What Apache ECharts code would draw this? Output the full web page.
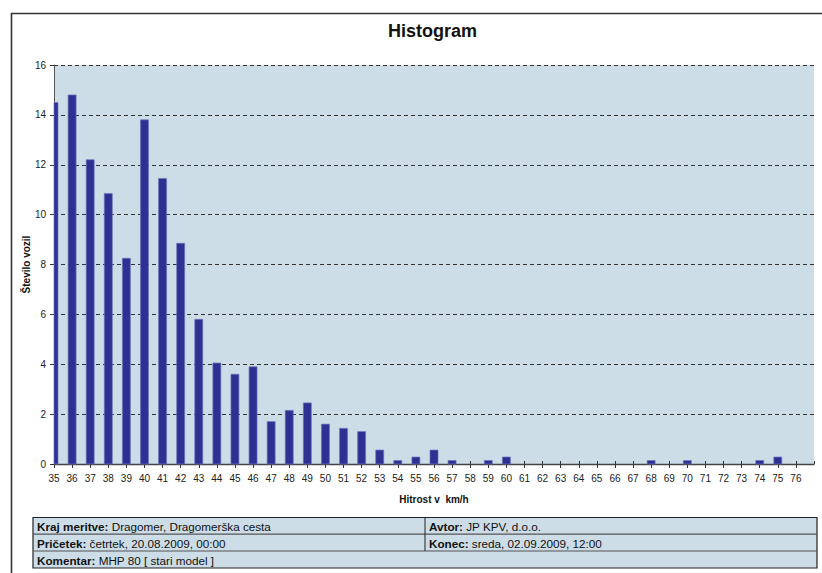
<!DOCTYPE html>
<html>
<head>
<meta charset="utf-8">
<script src="https://cdn.jsdelivr.net/npm/echarts@6/dist/echarts.min.js"></script>
<style>
html,body{margin:0;padding:0;background:#fff;}
#c{width:822px;height:573px;}
</style>
</head>
<body>
<div id="c"></div>
<script>
// ---- data ----
const titleText = 'Histogram';
const xName = 'Hitrost v  km/h';
const yName = 'Število vozil';
const categories = [35,36,37,38,39,40,41,42,43,44,45,46,47,48,49,50,51,52,53,54,55,56,57,58,59,60,61,62,63,64,65,66,67,68,69,70,71,72,73,74,75,76];
const values = [14.5,14.8,12.2,10.85,8.25,13.8,11.45,8.85,5.8,4.05,3.6,3.9,1.7,2.15,2.45,1.6,1.43,1.3,0.56,0.14,0.28,0.56,0.14,0,0.14,0.28,0,0,0,0,0,0,0,0.14,0,0.14,0,0,0,0.14,0.28,0];
const yTicks = [0,2,4,6,8,10,12,14,16];
const tableRows = [
  [['Kraj meritve:', 'Dragomer, Dragomerška cesta'], ['Avtor:', 'JP KPV, d.o.o.']],
  [['Pričetek:', 'četrtek, 20.08.2009, 00:00'], ['Konec:', 'sreda, 02.09.2009, 12:00']],
  [['Komentar:', 'MHP 80 [ stari model ]']]
];

const chart = echarts.init(document.getElementById('c'), null, {renderer:'svg'});
const font = 'Liberation Sans, Arial, sans-serif';
const barData = categories.map((c,i)=>[c, values[i]]);
const xMin = categories[0];
const xMax = categories[categories.length-1] + 1;
const BAR_W = 8;

// table graphics
const tL = 33, tR = 817, tMid = 425, rowTops = [517.5, 534.2, 551, 568];
const tfs = 11.7;
const graphics = [
  {type:'line', shape:{x1:11, y1:13.5, x2:822, y2:13.5}, style:{stroke:'#333', lineWidth:1.6}},
  {type:'line', shape:{x1:11.5, y1:13, x2:11.5, y2:573}, style:{stroke:'#333', lineWidth:1.6}},
  {type:'rect', shape:{x:tL, y:rowTops[0], width:tR-tL, height:rowTops[3]-rowTops[0]}, style:{fill:'#CDDDE7', stroke:'#222', lineWidth:1.2}}
];
for (let r=1;r<3;r++){
  graphics.push({type:'line', shape:{x1:tL, y1:rowTops[r], x2:tR, y2:rowTops[r]}, style:{stroke:'#555', lineWidth:1.2}});
}
graphics.push({type:'line', shape:{x1:tMid, y1:rowTops[0], x2:tMid, y2:rowTops[2]}, style:{stroke:'#222', lineWidth:1}});
tableRows.forEach((row, r)=>{
  row.forEach((cell, ci)=>{
    const x = (ci===0 ? tL : tMid) + 4;
    const y = (rowTops[r]+rowTops[r+1])/2 + 0.5;
    graphics.push({type:'text', x:x, y:y, style:{
      text:'{b|'+cell[0]+'} {n|'+cell[1]+'}',
      verticalAlign:'middle', fontFamily:font, fontSize:tfs, fill:'#111',
      rich:{ b:{fontWeight:'bold', fontSize:tfs, fontFamily:font, fill:'#111'}, n:{fontSize:tfs, fontFamily:font, fill:'#111'} }
    }});
  });
});

const xAxisBase = {
  type:'value', min:xMin, max:xMax, interval:1, gridIndex:0
};

chart.setOption({
  animation:false,
  backgroundColor:'#fff',
  title:{text:titleText, left:383, top:17, textStyle:{fontFamily:font, fontSize:18, fontWeight:'bold', color:'#111'}},
  grid:{left:54, right:8, top:65, bottom:109, show:true, backgroundColor:'#CDDDE7', borderWidth:0},
  xAxis:[
    Object.assign({}, xAxisBase, {
      name:xName, nameLocation:'middle', nameGap:30, nameMoveOverlap:false,
      nameTextStyle:{fontFamily:font, fontSize:10, fontWeight:'bold', color:'#111'},
      axisLine:{show:true, lineStyle:{color:'#444', width:1.3}},
      axisTick:{show:true, length:4, lineStyle:{color:'#333'}},
      axisLabel:{fontFamily:font, fontSize:10, color:'#222', margin:9, showMaxLabel:false,
        formatter:(v)=> v===xMax ? '' : String(v)},
      splitLine:{show:false}
    }),
    Object.assign({}, xAxisBase, {
      position:'bottom',
      axisLine:{show:false},
      axisTick:{show:true, inside:true, length:3, lineStyle:{color:'#333'}},
      axisLabel:{show:false},
      splitLine:{show:false}
    })
  ],
  yAxis:{
    type:'value', min:yTicks[0], max:yTicks[yTicks.length-1], interval:yTicks[1]-yTicks[0],
    name:yName, nameLocation:'middle', nameGap:23, nameMoveOverlap:false,
    nameTextStyle:{fontFamily:font, fontSize:10, fontWeight:'bold', color:'#111'},
    axisLine:{show:true, lineStyle:{color:'#555', width:1}},
    axisTick:{show:true, length:4, lineStyle:{color:'#333'}},
    axisLabel:{fontFamily:font, fontSize:10, color:'#222', margin:8},
    splitLine:{show:true, lineStyle:{color:'#333', type:[4,3], width:1}}
  },
  series:[{
    type:'custom', xAxisIndex:0, yAxisIndex:0, data:barData,
    encode:{x:0, y:1},
    itemStyle:{color:'#2E3192', borderColor:'#6F74BE', borderWidth:0.7},
    renderItem:function(params, api){
      const x = api.value(0), y = api.value(1);
      const top = api.coord([x, y]);
      const base = api.coord([x, 0]);
      const cs = params.coordSys;
      const rect = echarts.graphic.clipRectByRect(
        {x: top[0]-BAR_W/2, y: top[1], width: BAR_W, height: base[1]-top[1]},
        {x: cs.x, y: cs.y, width: cs.width, height: cs.height}
      );
      if (!rect || rect.height <= 0) return null;
      return {type:'rect', shape:rect, style:api.style()};
    }
  }],
  graphic:graphics
});
</script>
</body>
</html>
